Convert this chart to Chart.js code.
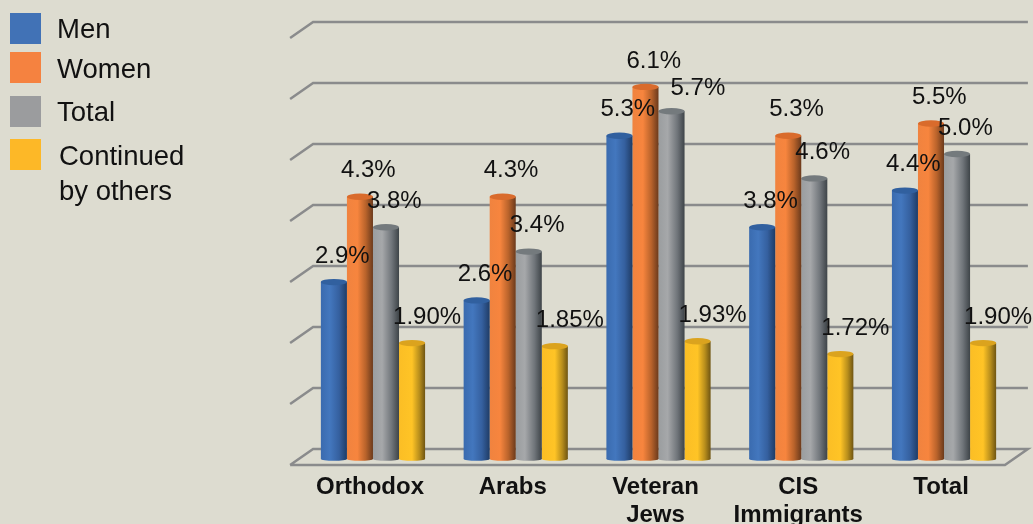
<!DOCTYPE html>
<html>
<head>
<meta charset="utf-8">
<style>
html,body{margin:0;padding:0;background:#DDDCD0;overflow:hidden}
canvas{display:block}
</style>
<script src="https://cdn.jsdelivr.net/npm/chart.js@4/dist/chart.umd.js"></script>
</head>
<body>
<canvas id="c" width="1033" height="524"></canvas>
<script>
const categories = [['Orthodox'], ['Arabs'], ['Veteran', 'Jews'], ['CIS', 'Immigrants'], ['Total']];
const men = [2.9, 2.6, 5.3, 3.8, 4.4];
const women = [4.3, 4.3, 6.1, 5.3, 5.5];
const total = [3.8, 3.4, 5.7, 4.6, 5.0];
const others = [1.90, 1.85, 1.93, 1.72, 1.90];
const menLabels = ['2.9%', '2.6%', '5.3%', '3.8%', '4.4%'];
const womenLabels = ['4.3%', '4.3%', '6.1%', '5.3%', '5.5%'];
const totalLabels = ['3.8%', '3.4%', '5.7%', '4.6%', '5.0%'];
const othersLabels = ['1.90%', '1.85%', '1.93%', '1.72%', '1.90%'];
const yTicks = [0, 1, 2, 3, 4, 5, 6, 7];

const FONT = '"Liberation Sans", Arial, sans-serif';
const BG = '#DDDCD0';
const GRID = '#8A8B8C';

const looks = [
  {swatch:'#4172B6', cap:'#31609F', stops:[[0,'#3A6BAF'],[.35,'#4377BE'],[.7,'#35609F'],[1,'#1F3C66']]},
  {swatch:'#F58240', cap:'#D96B2C', stops:[[0,'#F0833F'],[.4,'#F7853E'],[.72,'#B9632B'],[1,'#6B3A1C']]},
  {swatch:'#9B9C9E', cap:'#747A7D', stops:[[0,'#9A9D9F'],[.35,'#A6A8AA'],[.72,'#70757A'],[1,'#3E4448']]},
  {swatch:'#FDB827', cap:'#DBA31E', stops:[[0,'#FBBE25'],[.5,'#FFC426'],[.78,'#B88E1C'],[1,'#6F5512']]}
];

const legendRows = [
  {lines:['Men'], box:13, textX:57, textY:[30.5]},
  {lines:['Women'], box:52, textX:57, textY:[70.5]},
  {lines:['Total'], box:96, textX:57, textY:[113.5]},
  {lines:['Continued', 'by others'], box:139, textX:59, textY:[157.5, 192.5]}
];

const backdrop = {
  id:'backdrop',
  beforeDraw(chart){
    const {ctx, width, height} = chart;
    ctx.save();
    ctx.fillStyle = BG;
    ctx.fillRect(0, 0, width, height);
    ctx.restore();
  },
  beforeDatasetsDraw(chart){
    const {ctx, chartArea:a, scales:{y}} = chart;
    const back = -10, front = 6, slant = 23;
    const x0 = a.left + 11.5, x1 = a.right + 12.5;
    ctx.save();
    ctx.strokeStyle = GRID;
    ctx.lineWidth = 2.5;
    ctx.lineJoin = 'miter';
    y.ticks.forEach(t => {
      const py = y.getPixelForValue(t.value);
      ctx.beginPath();
      ctx.moveTo(x0 - slant, py + front);
      ctx.lineTo(x0, py + back);
      ctx.lineTo(x1, py + back);
      if (t.value === 0) {
        ctx.lineTo(x1 - slant, py + front);
        ctx.lineTo(x0 - slant, py + front);
      }
      ctx.stroke();
    });
    ctx.restore();
  },
  beforeDatasetDraw(chart, args){
    const {ctx} = chart;
    const look = looks[args.index];
    args.meta.data.forEach(bar => {
      const w = bar.width, l = bar.x - w / 2;
      const g = ctx.createLinearGradient(l, 0, l + w, 0);
      look.stops.forEach(s => g.addColorStop(s[0], s[1]));
      bar.options = {...bar.options, backgroundColor:g};
    });
  },
  afterDatasetDraw(chart, args){
    const {ctx} = chart;
    const look = looks[args.index];
    args.meta.data.forEach(bar => {
      const w = bar.width;
      ctx.save();
      ctx.fillStyle = bar.options.backgroundColor;
      ctx.beginPath();
      ctx.ellipse(bar.x, bar.base, w / 2, 1.8, 0, 0, Math.PI * 2);
      ctx.fill();
      ctx.fillStyle = look.cap;
      ctx.beginPath();
      ctx.ellipse(bar.x, bar.y, w / 2, 3.2, 0, 0, Math.PI * 2);
      ctx.fill();
      ctx.restore();
    });
  },
  afterDatasetsDraw(chart){
    const {ctx} = chart;
    ctx.save();
    ctx.fillStyle = '#111';
    ctx.font = '24px ' + FONT;
    ctx.textAlign = 'left';
    ctx.textBaseline = 'middle';
    chart.data.datasets.forEach((ds, i) => {
      chart.getDatasetMeta(i).data.forEach((bar, j) => {
        const shift = ds.labelShift && ds.labelShift[j] || [0, 0];
        ctx.fillText(ds.valueLabels[j], bar.x - 19 + shift[0], bar.y - 26 + shift[1]);
      });
    });
    ctx.font = '27.5px ' + FONT;
    legendRows.forEach((row, i) => {
      ctx.fillStyle = looks[i].swatch;
      ctx.fillRect(10, row.box, 31, 31);
      ctx.fillStyle = '#111';
      row.lines.forEach((s, k) => ctx.fillText(s, row.textX, row.textY[k]));
    });
    ctx.restore();
  }
};

const mk = (label, data, valueLabels, extra) => Object.assign({label, data, valueLabels, backgroundColor:'#000', borderWidth:0}, extra);

new Chart(document.getElementById('c'), {
  type:'bar',
  data:{
    labels:categories,
    datasets:[
      mk('Men', men, menLabels),
      mk('Women', women, womenLabels),
      mk('Total', total, totalLabels, {labelShift:[null, null, [18, 3], null, null]}),
      mk('Continued by others', others, othersLabels)
    ]
  },
  plugins:[backdrop],
  options:{
    responsive:false,
    animation:false,
    events:[],
    layout:{padding:{left:301.6, right:17.6, top:32, bottom:0}},
    datasets:{bar:{categoryPercentage:0.73, barPercentage:1}},
    plugins:{legend:{display:false}, tooltip:{enabled:false}, title:{display:false}},
    scales:{
      x:{
        grid:{display:false, drawTicks:false},
        border:{display:false},
        ticks:{color:'#111', padding:15, labelOffset:-3, maxRotation:0, minRotation:0, autoSkip:false,
               font:{family:FONT, size:24, weight:'bold', lineHeight:1.15}},
        afterFit(s){ s.height = 65; }
      },
      y:{
        display:true,
        min:0, max:7,
        afterBuildTicks(s){ s.ticks = yTicks.map(value => ({value})); },
        grid:{display:false},
        border:{display:false},
        ticks:{display:false},
        afterFit(s){ s.width = 0; }
      }
    }
  }
});
</script>
</body>
</html>
